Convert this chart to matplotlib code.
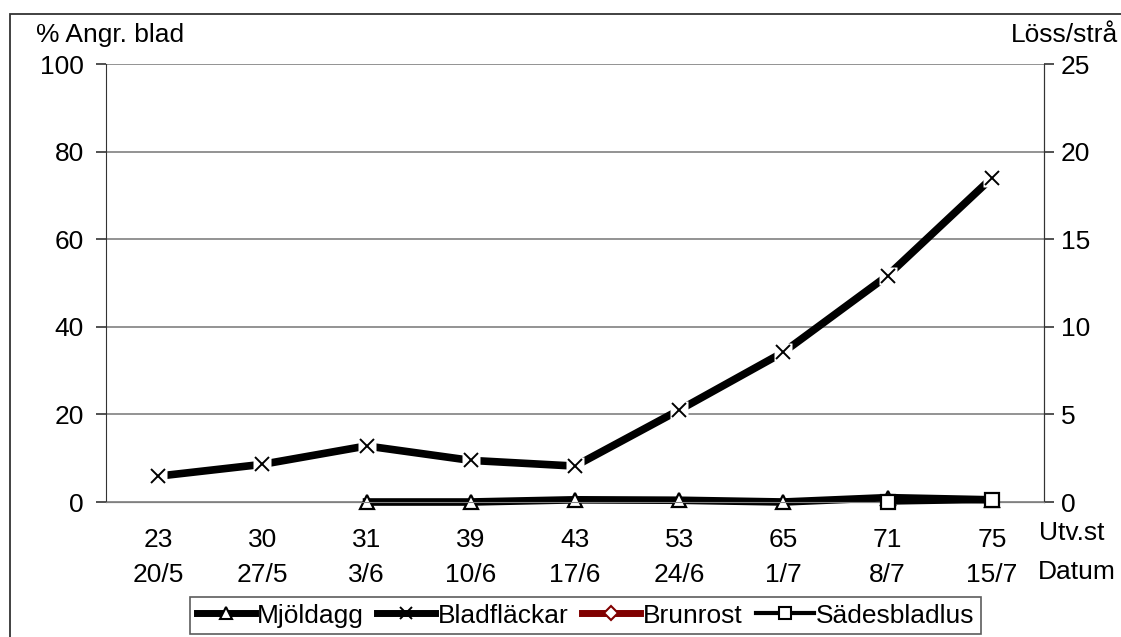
import numpy as np
import matplotlib
matplotlib.use('Agg')
from matplotlib import pyplot as plt
from matplotlib.lines import Line2D
from matplotlib.patches import Rectangle

plt.rcParams['font.family'] = ['Liberation Sans', 'DejaVu Sans']
FS = 19

utv_st = ['23', '30', '31', '39', '43', '53', '65', '71', '75']
datum = ['20/5', '27/5', '3/6', '10/6', '17/6', '24/6', '1/7', '8/7', '15/7']

# % angripna blad (left axis), None = no observation
mjoldagg = [None, None, 0, 0, 0.5, 0.4, 0, 1.0, 0.5]
bladflackar = [5.9, 8.6, 12.8, 9.5, 8.2, 21.0, 34.2, 51.7, 74.0]
# löss per strå (right axis)
sadesbladlus = [None, None, None, None, None, None, None, 0.0, 0.1]

x = np.arange(len(utv_st)) + 0.5

def series(vals):
    xs = [xi for xi, v in zip(x, vals) if v is not None]
    ys = [v for v in vals if v is not None]
    return xs, ys

fig = plt.figure(figsize=(11.21, 6.37), dpi=100)
W, H = 1121, 637
ax = fig.add_axes([106 / W, 1 - 502 / H, (1044 - 106) / W, (502 - 64) / H])
ax2 = ax.twinx()

# outer chart frame (cut by the image edge)
fig.patches.append(Rectangle((10 / W, -0.1), 1.2, 1 - 14 / H + 0.1, transform=fig.transFigure,
                             fill=False, edgecolor='#333333', linewidth=1.3))

ax.set_xlim(0, len(utv_st))
ax.set_ylim(0, 100)
ax2.set_ylim(0, 25)
ax.set_yticks(np.arange(0, 101, 20))
ax2.set_yticks(np.arange(0, 26, 5))
ax.yaxis.grid(True, color='#808080', linewidth=1.2)
ax.set_axisbelow(True)

for a in (ax, ax2):
    a.spines['top'].set_visible(False)
    a.spines['bottom'].set_color('#808080')
    a.spines['left'].set_color('#333333')
    a.spines['right'].set_color('#333333')
    a.tick_params(axis='y', length=7, width=1.2, color='#333333', labelsize=FS)
ax.tick_params(axis='y', pad=9)
ax2.tick_params(axis='y', pad=5)
ax2.spines['left'].set_visible(False)

ax.set_xticks(x)
ax.set_xticklabels([f'{u}\n{d}' for u, d in zip(utv_st, datum)], linespacing=1.55)
ax.tick_params(axis='x', length=0, pad=19, labelsize=FS)

# Bladfläckar: thick line broken by the marker background
bx, by = series(bladflackar)
ax.plot(bx, by, color='black', linewidth=5.5, zorder=3, solid_capstyle='butt', clip_on=False)
ax.plot(bx, by, linestyle='none', marker='s', markersize=13, markerfacecolor='white',
        markeredgecolor='none', zorder=4, clip_on=False)
ax.plot(bx, by, linestyle='none', marker='x', markersize=10, markeredgewidth=1.4,
        color='black', zorder=5, clip_on=False)

# Mjöldagg
mx, my = series(mjoldagg)
ax.plot(mx, my, color='black', linewidth=5.5, marker='^', markersize=10,
        markerfacecolor='white', markeredgecolor='black', markeredgewidth=1.6, zorder=3,
        clip_on=False)

# Sädesbladlus on the right axis
sx, sy = series(sadesbladlus)
ax2.plot(sx, sy, color='black', linewidth=4, marker='s', markersize=10,
         markerfacecolor='white', markeredgecolor='black', markeredgewidth=1.6, zorder=3,
         clip_on=False)

# axis titles as in the original spreadsheet chart
fig.text(36 / W, 1 - 35 / H, '% Angr. blad', fontsize=FS, va='center', ha='left')
fig.text(1118 / W, 1 - 35 / H, 'Löss/strå', fontsize=FS, va='center', ha='right')
fig.text(1039 / W, 1 - 533 / H, 'Utv.st', fontsize=FS, va='center', ha='left')
fig.text(1038 / W, 1 - 572 / H, 'Datum', fontsize=FS, va='center', ha='left')

handles = [
    Line2D([], [], color='black', linewidth=5, marker='^', markersize=9,
           markerfacecolor='white', markeredgecolor='black', markeredgewidth=1.5),
    Line2D([], [], color='black', linewidth=5, marker='x', markersize=9,
           markeredgecolor='black', markeredgewidth=1.4),
    Line2D([], [], color='#800000', linewidth=5, marker='D', markersize=7,
           markerfacecolor='white', markeredgecolor='#800000', markeredgewidth=1.5),
    Line2D([], [], color='black', linewidth=3, marker='s', markersize=9,
           markerfacecolor='white', markeredgecolor='black', markeredgewidth=1.5),
]
labels = ['Mjöldagg', 'Bladfläckar', 'Brunrost', 'Sädesbladlus']
leg = fig.legend(handles, labels, loc='upper left', bbox_to_anchor=(190 / W, 1 - 597 / H),
                 ncol=4, frameon=True, fancybox=False, edgecolor='#333333', fontsize=FS,
                 handlelength=2.2, handletextpad=0.1, columnspacing=0.5, borderpad=0.25,
                 borderaxespad=0)
leg.get_frame().set_linewidth(1.2)

fig.savefig('out.png', dpi=100)
